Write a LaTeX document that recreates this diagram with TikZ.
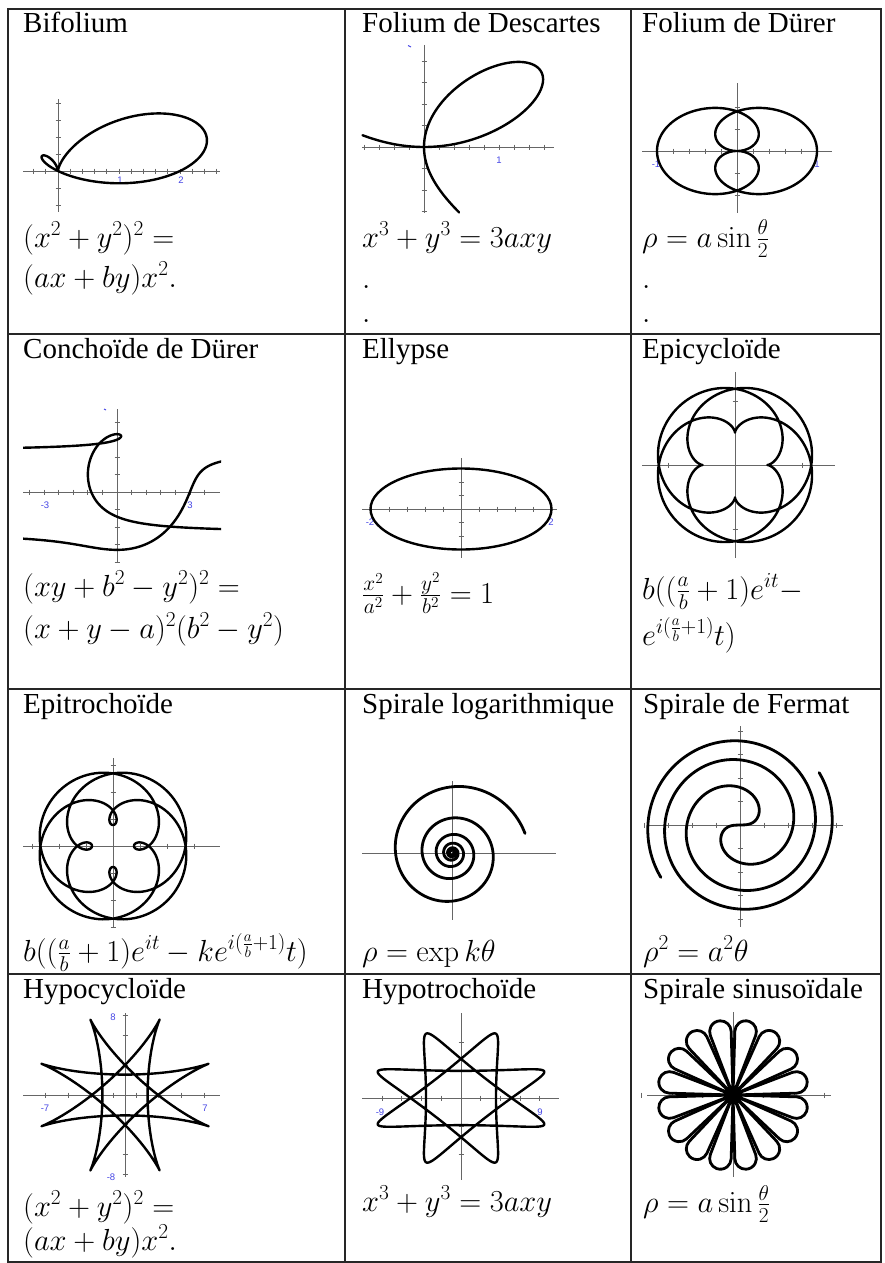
\RequirePackage{fix-cm}
\documentclass[tikz,border=0pt]{standalone}
\usepackage[no-math]{fontspec}
\setmainfont{Liberation Serif}
\newfontfamily\lblfam{Liberation Sans}
\definecolor{lblblue}{RGB}{70,70,230}
\newcommand\ttlsize{\fontsize{29}{34}\selectfont}
\newcommand\eqsize{\fontsize{30.5}{36}\selectfont}
\newcommand\lblsize{\lblfam\fontsize{9.5}{10}\selectfont}
\begin{document}
\begin{tikzpicture}[x=1pt,y=-1pt,
  grid/.style={line width=1.6pt, black!85},
  ttl/.style={anchor=base west, inner sep=0pt, font=\ttlsize},
  eqn/.style={anchor=base west, inner sep=0pt, font=\eqsize},
  axis/.style={line width=0.9pt, black!60},
  crv/.style={line width=2.4pt, black, line join=round, line cap=round},
  thickcrv/.style={crv, line width=2.8pt},
  lbl/.style={inner sep=0pt, font=\lblsize, text=lblblue},
  tickmark/.style={line width=0.9pt, black!60}]
\useasboundingbox (0,0) rectangle (885,1263);
\fill[white] (0,0) rectangle (885,1263);

% ---------- table ----------
\draw[grid] (8,9) rectangle (881,1262);
\draw[grid] (345,9) -- (345,1262);
\draw[grid] (631,9) -- (631,1262);
\draw[grid] (8,334) -- (881,334);
\draw[grid] (8,689) -- (881,689);
\draw[grid] (8,974) -- (881,974);

% ---------- titles ----------
\node[ttl] (t11) at (23,33) {Bifolium};
\node[ttl] (t12) at (362,33) {Folium de Descartes};
\node[ttl] (t13) at (642,33) {Folium de Dürer};
\node[ttl] (t21) at (23,358) {Conchoïde de Dürer};
\node[ttl] (t22) at (362,358) {Ellypse};
\node[ttl] (t23) at (642,358) {Epicycloïde};
\node[ttl] (t31) at (23,713) {Epitrochoïde};
\node[ttl] (t32) at (362,713) {Spirale logarithmique};
\node[ttl] (t33) at (643,713) {Spirale de Fermat};
\node[ttl] (t41) at (23,998) {Hypocycloïde};
\node[ttl] (t42) at (362,998) {Hypotrochoïde};
\node[ttl] (t43) at (643,998) {Spirale sinusoïdale};

% ---------- equations ----------
\node[eqn] (e11a) at (23,247) {$(x^2+y^2)^2 =$};
\node[eqn] (e11b) at (23,287) {$(ax+by)x^2.$};
\node[eqn] (e12) at (362,247) {$x^3+y^3=3axy$};
\node[eqn] (d12a) at (362,288) {$.$};
\node[eqn] (d12b) at (362,322) {$.$};
\node[eqn] (e13) at (642,247) {$\rho = a\sin\frac{\theta}{2}$};
\node[eqn] (d13a) at (642,288) {$.$};
\node[eqn] (d13b) at (642,322) {$.$};
\node[eqn] (e21a) at (23,596) {$(xy+b^2-y^2)^2 =$};
\node[eqn] (e21b) at (23,638) {$(x+y-a)^2(b^2-y^2)$};
\node[eqn] (e22) at (362,603) {$\frac{x^2}{a^2}+\frac{y^2}{b^2}=1$};
\node[eqn] (e23a) at (642,599) {$b((\frac{a}{b}+1)e^{it}-$};
\node[eqn] (e23b) at (642,645) {$e^{i(\frac{a}{b}+1)}t)$};
\node[eqn] (e31) at (23,961) {$b((\frac{a}{b}+1)e^{it}-ke^{i(\frac{a}{b}+1)}t)$};
\node[eqn] (e32) at (362,961) {$\rho=\exp k\theta$};
\node[eqn] (e33) at (643,961) {$\rho^2=a^2\theta$};
\node[eqn] (e41a) at (23,1216) {$(x^2+y^2)^2 =$};
\node[eqn] (e41b) at (23,1250) {$(ax+by)x^2.$};
\node[eqn] (e42) at (362,1211) {$x^3+y^3=3axy$};
\node[eqn] (e43) at (643,1212) {$\rho = a\sin\frac{\theta}{2}$};

% ---------- 1: Bifolium ----------
\draw[axis] (23,171) -- (220,171);
\draw[axis] (58,99) -- (58,212);
\foreach \i in {-2,...,13} \draw[tickmark] ({58+12.2*\i},168.5) -- ++(0,5);
\foreach \i in {-4,...,2} \draw[tickmark] (55.5,{171+17*\i}) -- ++(5,0);
\node[lbl] (l11a) at (120,180) {1};
\node[lbl] (l11b) at (181,180) {2};
\begin{scope}[shift={(58,171)}, x=61pt, y=44pt]
\draw[crv] plot[domain=-90:90, samples=240, variable=\t]
 ({(2*cos(\t)+3*sin(\t))*cos(\t)*cos(\t)*cos(\t)},
  {(2*cos(\t)+3*sin(\t))*cos(\t)*cos(\t)*sin(\t)});
\end{scope}

% ---------- 2: Folium de Descartes ----------
\draw[axis] (362,147) -- (554,147);
\draw[axis] (424,45) -- (424,213);
\foreach \i in {-4,...,8} \draw[tickmark] ({424+15*\i},144.5) -- ++(0,5);
\foreach \i in {-4,...,3} \draw[tickmark] (421.5,{147+21.5*\i}) -- ++(5,0);
\node[lbl] (l12) at (499,160) {1};
\draw[lblblue, line width=1pt] (408,45.5) -- (411,47);
\begin{scope}[shift={(424,147)}, x=75pt, y=53.6pt]
\draw[crv] plot[domain=-15:111, samples=260, variable=\t]
 ({3*sin(\t)*cos(\t)*cos(\t)/(cos(\t)*cos(\t)*cos(\t)+sin(\t)*sin(\t)*sin(\t))},
  {3*sin(\t)*sin(\t)*cos(\t)/(cos(\t)*cos(\t)*cos(\t)+sin(\t)*sin(\t)*sin(\t))});
\end{scope}

% ---------- 3: Folium de Durer ----------
\draw[axis] (642,151) -- (832,151);
\draw[axis] (737,83) -- (737,213);
\foreach \i in {-5,...,5} \draw[tickmark] ({737+16*\i},148.5) -- ++(0,5);
\foreach \i in {-2,-1,1,2} \draw[tickmark] (734.5,{151+22*\i}) -- ++(5,0);
\node[lbl] (l13a) at (656,164) {-1};
\node[lbl] (l13b) at (817,164) {1};
\begin{scope}[shift={(737,151)}, x=80pt, y=56pt]
\draw[crv] plot[domain=0:720, samples=361, variable=\t]
 ({sin(\t/2)*cos(\t)}, {sin(\t/2)*sin(\t)});
\end{scope}

% ---------- 4: Conchoide de Durer ----------
\draw[axis] (23,492) -- (220,492);
\draw[axis] (117,409) -- (117,562);
\foreach \i in {-6,...,6} \draw[tickmark] ({117+14.6*\i},489.5) -- ++(0,5);
\foreach \i in {-4,...,4} \draw[tickmark] (114.5,{492+17.5*\i}) -- ++(5,0);
\node[lbl] (l21a) at (45,505) {-3};
\node[lbl] (l21b) at (190,505) {3};
\draw[lblblue, line width=1pt] (104,409) -- (106,410);
\begin{scope}
\clip (23,400) rectangle (221,570);
\begin{scope}[shift={(117,492)}, x=24.3pt, y=28.5pt]
\draw[crv] plot[domain=49:90, samples=120, variable=\p]
 ({2.03*cos(\p)*(2.03*sin(\p)-0.97-2.03*cos(\p))/(2.03*sin(\p)-2.03*cos(\p))}, {2.03*sin(\p)});
\draw[crv] plot[domain=-90:33, samples=200, variable=\p]
 ({2.03*cos(\p)*(2.03*sin(\p)-0.97-2.03*cos(\p))/(2.03*sin(\p)-2.03*cos(\p))}, {2.03*sin(\p)});
\draw[crv] plot[domain=-40.5:90, samples=200, variable=\p]
 ({-2.03*cos(\p)*(2.03*sin(\p)-0.97+2.03*cos(\p))/(2.03*sin(\p)+2.03*cos(\p))}, {2.03*sin(\p)});
\draw[crv] plot[domain=-90:-52, samples=100, variable=\p]
 ({-2.03*cos(\p)*(2.03*sin(\p)-0.97+2.03*cos(\p))/(2.03*sin(\p)+2.03*cos(\p))}, {2.03*sin(\p)});
\end{scope}
\end{scope}

% ---------- 5: Ellypse ----------
\draw[axis] (362,509) -- (557,509);
\draw[axis] (461,458) -- (461,558);
\foreach \i in {-5,...,5} \draw[tickmark] ({461+18*\i},506.5) -- ++(0,5);
\foreach \i in {-3,...,3} \draw[tickmark] (458.5,{509+13.5*\i}) -- ++(5,0);
\node[lbl] (l22a) at (370,522) {-2};
\node[lbl] (l22b) at (551,522) {2};
\draw[crv] (461,509) ellipse [x radius=90.5pt, y radius=40.5pt];

% ---------- 6: Epicycloide ----------
\draw[axis] (642,465) -- (835,465);
\draw[axis] (735,372) -- (735,558);
\foreach \i in {-67,67} \draw[tickmark] ({735+\i},462.5) -- ++(0,5);
\foreach \i in {-64,64} \draw[tickmark] (732.5,{465+\i}) -- ++(5,0);
\begin{scope}[shift={(735,465)}, x=8.1pt, y=8.1pt]
\draw[crv] plot[domain=0:1080, samples=541, variable=\t]
 ({7*cos(\t)-3*cos(7*\t/3)}, {7*sin(\t)-3*sin(7*\t/3)});
\end{scope}

% ---------- 7: Epitrochoide ----------
\draw[axis] (23,846) -- (220,846);
\draw[axis] (113,758) -- (113,927);
\foreach \i in {-3,...,3} \draw[tickmark] ({113+27*\i},843.5) -- ++(0,5);
\foreach \i in {-3,...,3} \draw[tickmark] (110.5,{846+27*\i}) -- ++(5,0);
\begin{scope}[shift={(113,846)}, x=7pt, y=7pt]
\draw[crv] plot[domain=0:1080, samples=541, variable=\t]
 ({7*cos(\t)-4*cos(7*\t/3)}, {7*sin(\t)-4*sin(7*\t/3)});
\end{scope}

% ---------- 8: Spirale logarithmique ----------
\draw[axis] (362,853) -- (556,853);
\draw[axis] (452,781) -- (452,920);
\begin{scope}[shift={(452,853)}, x=1pt, y=1pt]
\draw[thickcrv] plot[domain=15:2175, samples=700, variable=\t]
 ({75.6*exp(-0.001763*(\t-15))*cos(\t)}, {75.6*exp(-0.001763*(\t-15))*sin(\t)});
\end{scope}

% ---------- 9: Spirale de Fermat ----------
\draw[axis] (647,825) -- (843,825);
\draw[axis] (740,726) -- (740,927);
\foreach \i in {-4,...,4} \draw[tickmark] ({740+24*\i},822.5) -- ++(0,5);
\foreach \i in {-4,...,4} \draw[tickmark] (737.5,{825+23.5*\i}) -- ++(5,0);
\begin{scope}[shift={(740,825)}, x=1pt, y=1pt]
\draw[thickcrv] plot[domain=0:573.5, samples=300, variable=\t]
 ({30*sqrt(\t/57.29578)*cos(\t)}, {30*sqrt(\t/57.29578)*sin(\t)});
\draw[thickcrv] plot[domain=0:573.5, samples=300, variable=\t]
 ({-30*sqrt(\t/57.29578)*cos(\t)}, {-30*sqrt(\t/57.29578)*sin(\t)});
\end{scope}

% ---------- 10: Hypocycloide ----------
\draw[axis] (23,1095) -- (220,1095);
\draw[axis] (125,1013) -- (125,1177);
\foreach \i in {-7,-5,-3,-1,1,3,5,7} \draw[tickmark] ({125+11.3*\i},1092.5) -- ++(0,5);
\foreach \i in {-8,-6,-3,3,6,8} \draw[tickmark] (122.5,{1095+9.9*\i}) -- ++(5,0);
\node[lbl] (l41a) at (113,1017) {8};
\node[lbl] (l41b) at (111,1177) {-8};
\node[lbl] (l41c) at (45,1108) {-7};
\node[lbl] (l41d) at (205,1108) {7};
\begin{scope}[shift={(125,1095)}, x=11.3pt, y=10.2pt]
\draw[crv] plot[domain=0:1080, samples=541, variable=\t]
 ({5*cos(\t+22.5)+3*cos(22.5-5*\t/3)}, {5*sin(\t+22.5)+3*sin(22.5-5*\t/3)});
\end{scope}

% ---------- 11: Hypotrochoide ----------
\draw[axis] (362,1098) -- (559,1098);
\draw[axis] (461,1013) -- (461,1180);
\foreach \i in {-4,...,4} \draw[tickmark] ({461+19.7*\i},1095.5) -- ++(0,5);
\foreach \i in {-2,-1,1,2} \draw[tickmark] (458.5,{1098+28*\i}) -- ++(5,0);
\node[lbl] (l42a) at (380,1112) {-9};
\node[lbl] (l42b) at (540,1112) {9};
\begin{scope}[shift={(461,1098)}, x=12.5pt, y=9.7pt]
\draw[crv] plot[domain=0:1080, samples=541, variable=\t]
 ({5*cos(\t+22.5)+2.2*cos(22.5-5*\t/3)}, {5*sin(\t+22.5)+2.2*sin(22.5-5*\t/3)});
\end{scope}

% ---------- 12: Spirale sinusoidale ----------
\draw[axis] (647,1095) -- (831,1095);
\draw[axis] (733,1095) -- (733,1095);
\draw[axis] (733,1012) -- (733,1177);
\foreach \i in {-3,...,3} \draw[tickmark] ({733+30.5*\i},1092.5) -- ++(0,5);
\begin{scope}[shift={(733,1095)}, x=77pt, y=77pt]
\foreach \c in {11.25,33.75,...,348.75}
 \draw[thickcrv, rotate=\c] (0,0) -- (0.8167,-0.1380)
   arc[start angle=-99.59, end angle=99.59, radius=0.14] -- cycle;
\end{scope}
\end{tikzpicture}
\end{document}
